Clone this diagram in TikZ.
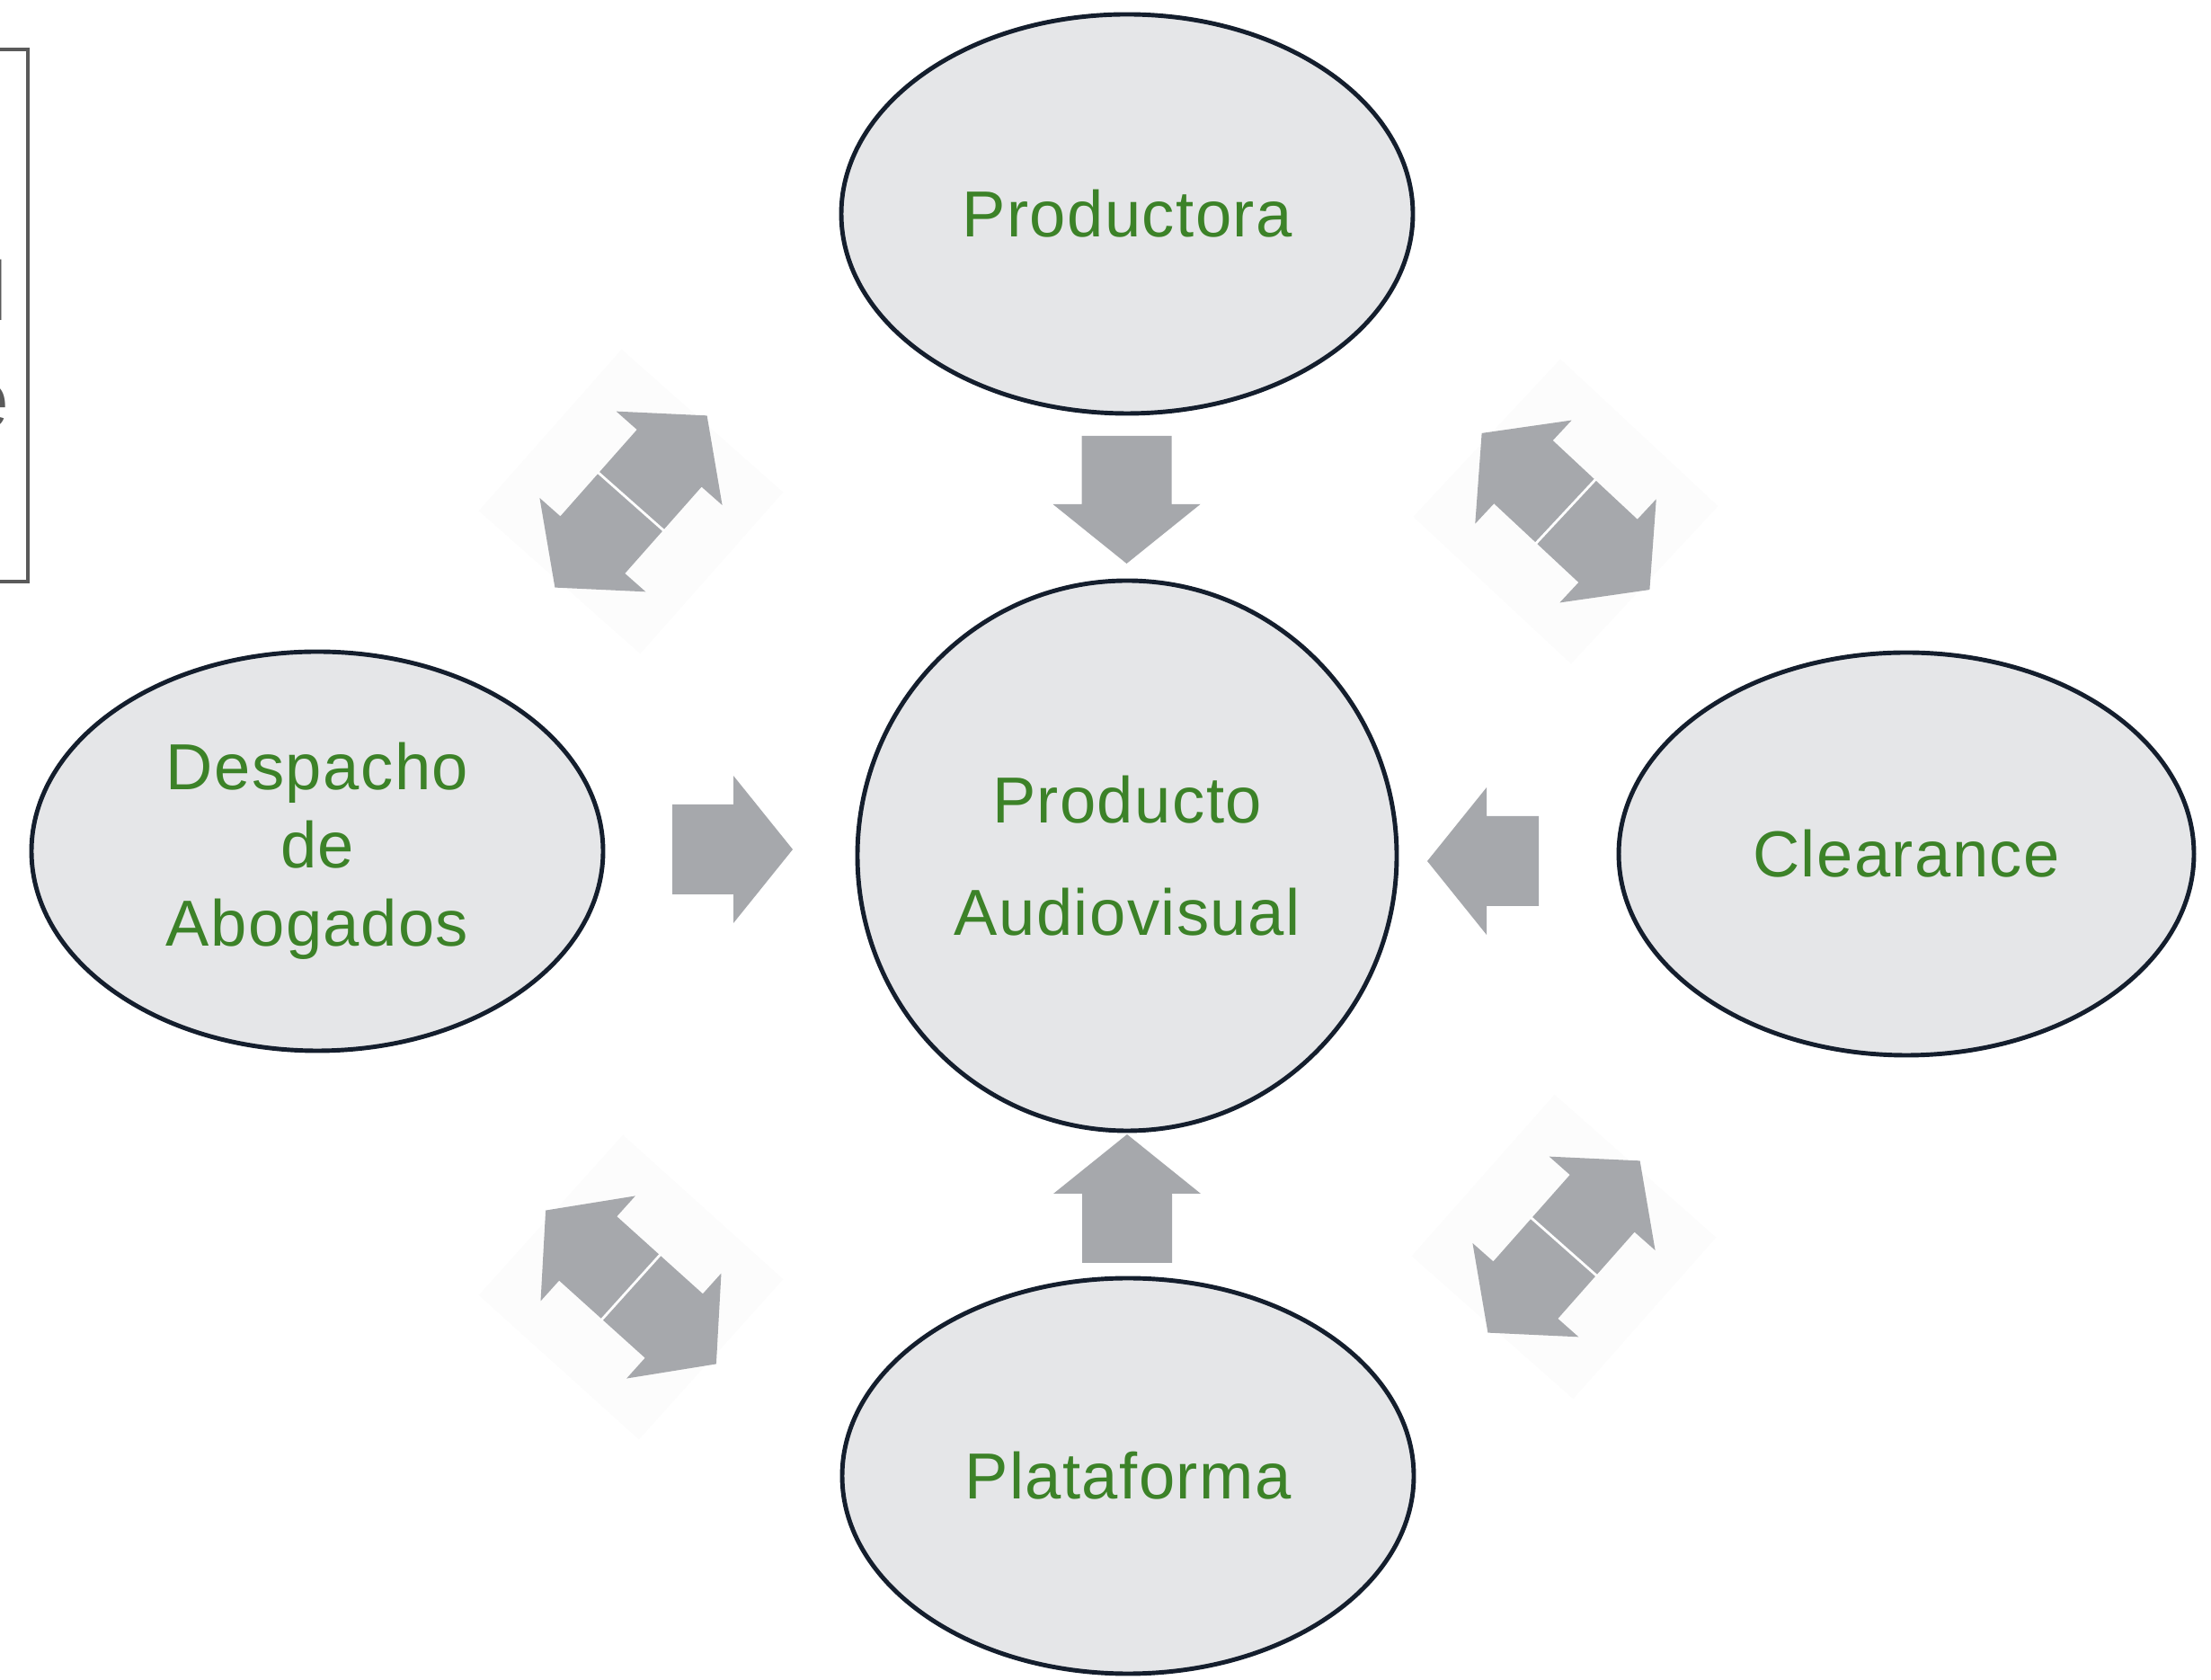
\documentclass[tikz,border=0pt]{standalone}
\usepackage{fontspec}
\newfontfamily\diagfont{Liberation Sans}[LetterSpace=2]
\usetikzlibrary{shapes.geometric}
\definecolor{labelgreen}{RGB}{60,130,40}
\definecolor{ellfill}{RGB}{229,230,232}
\definecolor{ellline}{RGB}{20,30,45}
\definecolor{arrowgray}{RGB}{166,168,172}
\definecolor{boxgray}{RGB}{90,90,90}

% block arrow: [options] tail point, angle, length
\newcommand{\blockarrow}[4][]{%
  \fill[arrowgray, shift={#2}, rotate=#3, #1] (0,-0.5) -- ({#4-0.66},-0.5) -- ({#4-0.66},-0.82)
    -- (#4,0) -- ({#4-0.66},0.82) -- ({#4-0.66},0.5) -- (0,0.5) -- cycle;}
% two-way arrow: split point, angle
\newcommand{\twoway}[2]{%
  \fill[black!1, shift={#1}, rotate=#2] (-1.2,-1.2) rectangle (1.2,1.2);
  \blockarrow[scale=0.96]{#1}{#2}{1.33}
  \blockarrow[scale=0.96]{#1}{#2+180}{1.33}
  \draw[white, line width=0.8pt, shift={#1}, rotate=#2] (0,-0.5) -- (0,0.5);}

\begin{document}
\begin{tikzpicture}[
    entity/.style={ellipse, draw=ellline, line width=1.4pt, fill=ellfill, inner sep=0pt,
      text=labelgreen, align=center, font=\diagfont\fontsize{20.6}{24.8}\selectfont},
    boxtext/.style={text=boxgray, inner sep=0pt, font=\diagfont\fontsize{26.5}{30}\selectfont}
  ]
    \useasboundingbox (0,0) rectangle (24.6,18.68);
    % Box cut off at the left edge
    \draw[boxgray, line width=1.4pt] (-1,18.13) -- (0.31,18.13) -- (0.31,12.21) -- (-1,12.21);
    \node[boxtext, anchor=base east] (boxl) at (0.09,15.11) {l};
    \node[boxtext, anchor=base east] (boxe) at (0.11,13.91) {e};
    % Ellipses
    \node[entity, minimum width=6.36cm, minimum height=4.44cm] (prod) at (12.54,16.30) {Productora};
    \node[entity, minimum width=6.00cm, minimum height=6.12cm] (av) at (12.54,9.16) {Producto\\[0.38cm]Audiovisual};
    \node[entity, minimum width=6.36cm, minimum height=4.44cm] (desp) at (3.53,9.21) {Despacho\\de\\Abogados};
    \node[entity, minimum width=6.40cm, minimum height=4.48cm] (clear) at (21.21,9.18) {Clearance};
    \node[entity, minimum width=6.36cm, minimum height=4.40cm] (plat) at (12.55,2.26) {Plataforma};
    % Arrows into the product
    \blockarrow{(12.535,13.83)}{-90}{1.42}
    \blockarrow{(12.54,4.63)}{90}{1.43}
    \blockarrow{(7.48,9.23)}{0}{1.34}
    \blockarrow{(17.12,9.10)}{180}{1.24}
    % Two-way arrows
    \twoway{(7.02,13.10)}{48.5}
    \twoway{(17.42,12.99)}{137}
    \twoway{(7.02,4.36)}{138}
    \twoway{(17.40,4.81)}{48.5}
\end{tikzpicture}
\end{document}
